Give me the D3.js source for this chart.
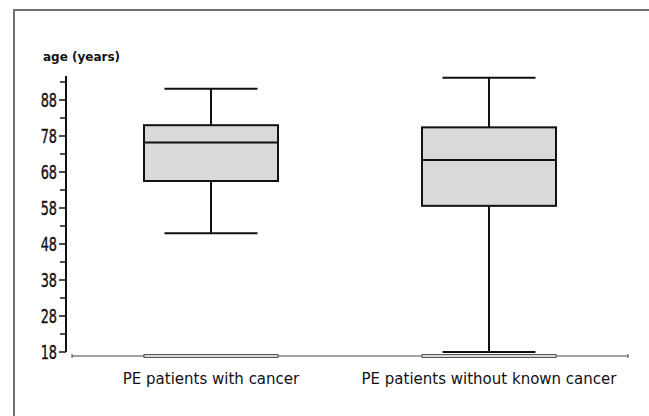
<!DOCTYPE html>
<html><head><meta charset="utf-8">
<script src="https://cdn.jsdelivr.net/npm/d3@7"></script>
<style>html,body{margin:0;padding:0;background:#fff;overflow:hidden}svg{display:block}</style>
</head><body>
<script>
const categories = ["PE patients with cancer", "PE patients without known cancer"];
const whiskerLow = [51, 18];
const q1 = [65.5, 58.6];
const median = [76.2, 71.3];
const q3 = [81, 80.4];
const whiskerHigh = [91.1, 94.2];
const yTicks = [18, 28, 38, 48, 58, 68, 78, 88];
const yMinorTicks = [23, 33, 43, 53, 63, 73, 83, 93];

const W = 649, H = 416;
const svg = d3.select("body").append("svg").attr("width", W).attr("height", H);

// frame (only top/left visible)
svg.append("path").attr("d", `M14,${H}V10H${W}`)
  .attr("fill", "none").attr("stroke", "#707070").attr("stroke-width", 2);

const y = d3.scaleLinear().domain([18, 88]).range([352, 100]);
const x = d3.scalePoint().domain(categories).range([72, 628]).padding(0.5);
const axX = 66;

// y axis
svg.append("line").attr("x1", axX).attr("x2", axX).attr("y1", y(94.7)).attr("y2", y(18))
  .attr("stroke", "#111").attr("stroke-width", 2);
svg.selectAll(".mt").data(yMinorTicks).join("line")
  .attr("x1", axX - 6).attr("x2", axX).attr("y1", d => y(d)).attr("y2", d => y(d))
  .attr("stroke", "#111").attr("stroke-width", 1.5);
svg.selectAll(".Mt").data(yTicks).join("line")
  .attr("x1", axX - 7).attr("x2", axX).attr("y1", d => y(d)).attr("y2", d => y(d))
  .attr("stroke", "#111").attr("stroke-width", 1.5);
svg.selectAll(".yl").data(yTicks).join("text")
  .attr("transform", d => `translate(57,${y(d) + 7}) scale(0.66,1)`)
  .attr("text-anchor", "end")
  .attr("font-family", "'DejaVu Sans',sans-serif")
  .attr("font-size", 19.5).attr("fill", "#111")
  .attr("stroke", "#111").attr("stroke-width", 0.4)
  .text(d => d);

svg.append("text").attr("x", 43).attr("y", 61)
  .attr("font-family", "'DejaVu Sans',sans-serif").attr("font-weight", "bold")
  .attr("font-size", 12).attr("fill", "#111").text("age (years)");

// x axis
const baseY = 356;
svg.append("line").attr("x1", 72).attr("x2", 628).attr("y1", baseY).attr("y2", baseY)
  .attr("stroke", "#444").attr("stroke-width", 1.2);
svg.append("line").attr("x1", 72).attr("x2", 72).attr("y1", baseY - 2).attr("y2", baseY + 2)
  .attr("stroke", "#444").attr("stroke-width", 1);
svg.append("line").attr("x1", 628).attr("x2", 628).attr("y1", baseY - 2).attr("y2", baseY + 2)
  .attr("stroke", "#444").attr("stroke-width", 1);

const boxW = 134, capW = 93;
const data = categories.map((c, i) => ({c, lo: whiskerLow[i], q1: q1[i], med: median[i], q3: q3[i], hi: whiskerHigh[i]}));
const g = svg.selectAll(".box").data(data).join("g");

// flat base boxes
g.append("rect").attr("x", d => x(d.c) - boxW / 2).attr("y", baseY - 1.5)
  .attr("width", boxW).attr("height", 3).attr("fill", "#d9d9d9")
  .attr("stroke", "#555").attr("stroke-width", 1);

g.append("line").attr("x1", d => x(d.c)).attr("x2", d => x(d.c))
  .attr("y1", d => y(d.hi)).attr("y2", d => y(d.lo)).attr("stroke", "#111").attr("stroke-width", 2);
g.append("line").attr("x1", d => x(d.c) - capW / 2).attr("x2", d => x(d.c) + capW / 2)
  .attr("y1", d => y(d.hi)).attr("y2", d => y(d.hi)).attr("stroke", "#111").attr("stroke-width", 2);
g.append("line").attr("x1", d => x(d.c) - capW / 2).attr("x2", d => x(d.c) + capW / 2)
  .attr("y1", d => y(d.lo)).attr("y2", d => y(d.lo)).attr("stroke", "#111").attr("stroke-width", 2);
g.append("rect").attr("x", d => x(d.c) - boxW / 2).attr("y", d => y(d.q3))
  .attr("width", boxW).attr("height", d => y(d.q1) - y(d.q3))
  .attr("fill", "#d9d9d9").attr("stroke", "#111").attr("stroke-width", 2);
g.append("line").attr("x1", d => x(d.c) - boxW / 2).attr("x2", d => x(d.c) + boxW / 2)
  .attr("y1", d => y(d.med)).attr("y2", d => y(d.med)).attr("stroke", "#111").attr("stroke-width", 2);

g.append("text").attr("x", d => x(d.c)).attr("y", 384).attr("text-anchor", "middle")
  .attr("font-family", "'DejaVu Sans',sans-serif").attr("font-size", 15).attr("fill", "#111")
  .text(d => d.c);
</script>
</body></html>
